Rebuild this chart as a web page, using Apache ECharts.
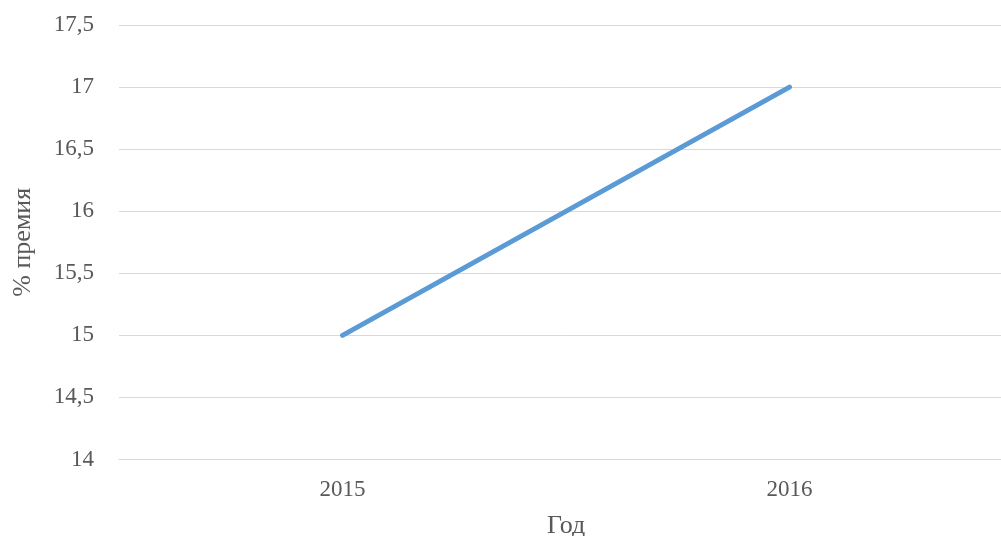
<!DOCTYPE html>
<html>
<head>
<meta charset="utf-8">
<script src="https://cdn.jsdelivr.net/npm/echarts@6/dist/echarts.min.js"></script>
<style>html,body{margin:0;padding:0;background:#fff;}#c{width:1001px;height:536px;}</style>
</head>
<body>
<div id="c"></div>
<script>
const categories = ['2015', '2016'];
const premiumValues = [15, 17];
const yMin = 14, yMax = 17.5, yStep = 0.5;
const xName = 'Год';
const yName = '% премия';

const chart = echarts.init(document.getElementById('c'), null, {renderer: 'canvas'});
const font = '"Liberation Serif", "Times New Roman", serif';
chart.setOption({
  animation: false,
  backgroundColor: '#ffffff',
  grid: {left: 119, right: -12, top: 25, bottom: 76.5, containLabel: false, outerBoundsMode: 'none'},
  xAxis: {
    type: 'category',
    data: categories,
    boundaryGap: true,
    name: xName,
    nameLocation: 'middle',
    nameGap: 54,
    nameTextStyle: {fontFamily: font, fontSize: 26, color: '#595959'},
    axisLine: {show: true, lineStyle: {color: '#d9d9d9', width: 1}},
    axisTick: {show: false},
    axisLabel: {fontFamily: font, fontSize: 23, color: '#595959', margin: 19}
  },
  yAxis: {
    type: 'value',
    min: yMin, max: yMax, interval: yStep,
    name: yName,
    nameLocation: 'middle',
    nameGap: 83,
    nameRotate: 90,
    nameTextStyle: {fontFamily: font, fontSize: 26, color: '#595959'},
    axisLine: {show: false},
    axisTick: {show: false},
    splitLine: {show: true, lineStyle: {color: '#d9d9d9', width: 1}},
    axisLabel: {
      fontFamily: font, fontSize: 23, color: '#595959', margin: 25,
      formatter: v => String(v).replace('.', ',')
    }
  },
  series: [{
    type: 'line',
    data: premiumValues,
    showSymbol: false,
    symbol: 'none',
    lineStyle: {color: '#5B9BD5', width: 5, cap: 'round'},
    itemStyle: {color: '#5B9BD5'}
  }]
});
</script>
</body>
</html>
